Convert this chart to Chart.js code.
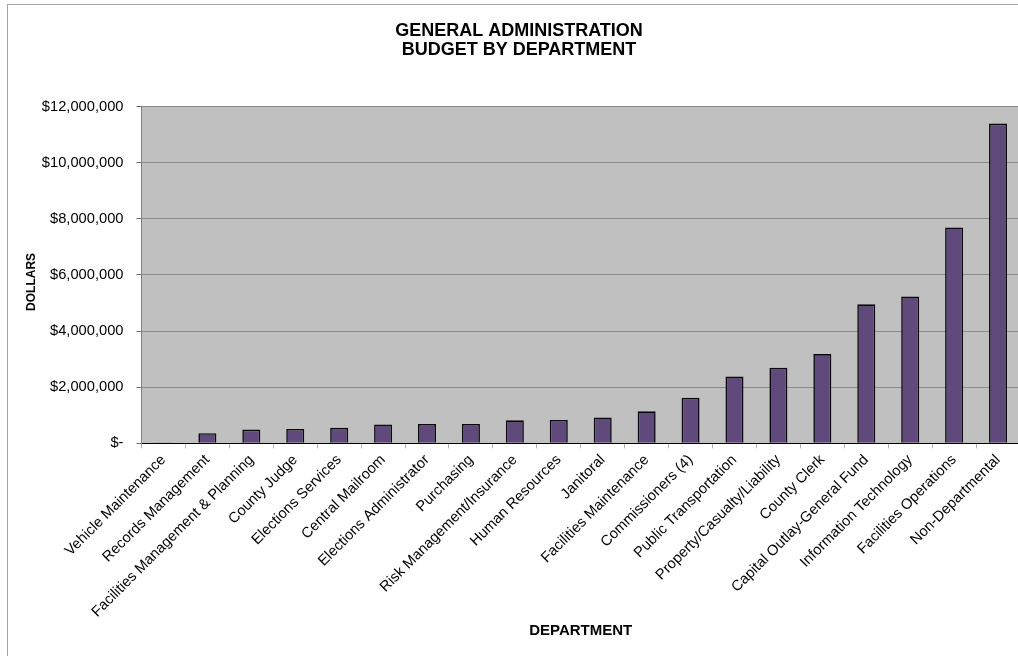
<!DOCTYPE html>
<html>
<head>
<meta charset="utf-8">
<script src="https://cdn.jsdelivr.net/npm/chart.js@4.4.1/dist/chart.umd.min.js"></script>
<style>
  html, body { margin: 0; padding: 0; background: #fff; overflow: hidden; }
  #wrap { width: 1020px; height: 656px; }
</style>
</head>
<body>
<div id="wrap"><canvas id="budgetChart" width="1020" height="656"></canvas></div>
<script>
// Departments, sorted by budget
const DEPARTMENTS = [
    'Vehicle Maintenance', 'Records Management', 'Facilities Management & Planning',
    'County Judge', 'Elections Services', 'Central Mailroom', 'Elections Administrator',
    'Purchasing', 'Risk Management/Insurance', 'Human Resources', 'Janitoral',
    'Facilities Maintenance', 'Commissioners (4)', 'Public Transportation',
    'Property/Casualty/Liability', 'County Clerk', 'Capital Outlay-General Fund',
    'Information Technology', 'Facilities Operations', 'Non-Departmental'
];
const BUDGET = [
    25000, 360000, 490000, 510000, 550000, 670000, 690000, 690000, 820000, 830000,
    920000, 1140000, 1620000, 2380000, 2690000, 3180000, 4950000, 5230000, 7690000, 11390000
];
const Y_MIN = 0;
const Y_MAX = 12000000;
const Y_STEP = 2000000;

const FONT = 'Arial, "Liberation Sans", sans-serif';

// gray plot background + thin outer frame
const plotBackground = {
    id: 'plotBackground',
    beforeDraw(chart) {
        const {ctx, chartArea} = chart;
        ctx.save();
        ctx.strokeStyle = '#a6a6a6';
        ctx.lineWidth = 1;
        ctx.strokeRect(7.5, 4.5, 1200, 1000);
        ctx.fillStyle = '#c0c0c0';
        ctx.fillRect(chartArea.left, chartArea.top, chartArea.right - chartArea.left, chartArea.bottom - chartArea.top);
        ctx.restore();
    }
};

// the y title sits a little below the middle of the axis, draw it ourselves
const yTitle = {
    id: 'yTitle',
    afterDraw(chart) {
        const {ctx, chartArea} = chart;
        ctx.save();
        ctx.translate(32, (chartArea.top + chartArea.bottom) / 2 + 7);
        ctx.rotate(-Math.PI / 2);
        ctx.font = 'bold 12px ' + FONT;
        ctx.fillStyle = '#000';
        ctx.textAlign = 'center';
        ctx.textBaseline = 'middle';
        ctx.fillText('DOLLARS', 0, 0);
        ctx.restore();
    }
};

function formatDollars(value) {
    if (value === 0) return '$-';
    return '$' + value.toLocaleString('en-US');
}

const ctx = document.getElementById('budgetChart').getContext('2d');
new Chart(ctx, {
    type: 'bar',
    data: {
        labels: DEPARTMENTS,
        datasets: [{
            data: BUDGET,
            backgroundColor: '#604a7b',
            borderColor: '#0a0a0a',
            borderWidth: 1.6,
            barPercentage: 0.41,
            categoryPercentage: 1
        }]
    },
    options: {
        responsive: false,
        animation: false,
        layout: {
            padding: { left: 18, right: 0, top: 0, bottom: 0 }
        },
        scales: {
            x: {
                offset: true,
                grid: {
                    display: true,
                    offset: true,
                    drawOnChartArea: false,
                    tickLength: 5,
                    tickColor: '#b0b0b0'
                },
                border: { color: '#000000', width: 1 },
                ticks: {
                    autoSkip: false,
                    minRotation: 45,
                    maxRotation: 45,
                    padding: 3,
                    color: '#000',
                    font: { family: FONT, size: 14.7 }
                },
                title: {
                    display: true,
                    text: 'DEPARTMENT',
                    color: '#000',
                    padding: { top: 0, bottom: 16 },
                    font: { family: FONT, size: 15, weight: 'bold' }
                },
                afterFit: (scale) => { scale.height = 212.7; }
            },
            y: {
                min: Y_MIN,
                max: Y_MAX,
                grid: {
                    color: '#8a8a8a',
                    tickColor: '#6a6a6a',
                    tickLength: 5
                },
                border: { color: '#808080', width: 1 },
                ticks: {
                    stepSize: Y_STEP,
                    padding: 13,
                    color: '#000',
                    font: { family: FONT, size: 14.7 },
                    callback: (value) => formatDollars(value)
                },
                afterFit: (scale) => { scale.width = 123.5; }
            }
        },
        plugins: {
            legend: { display: false },
            tooltip: { enabled: false },
            title: {
                display: true,
                text: ['GENERAL ADMINISTRATION', 'BUDGET BY DEPARTMENT'],
                color: '#000',
                padding: { top: 21, bottom: 46.5 },
                font: { family: FONT, size: 18, weight: 'bold', lineHeight: 1.083 }
            }
        }
    },
    plugins: [plotBackground, yTitle]
});
</script>
</body>
</html>
